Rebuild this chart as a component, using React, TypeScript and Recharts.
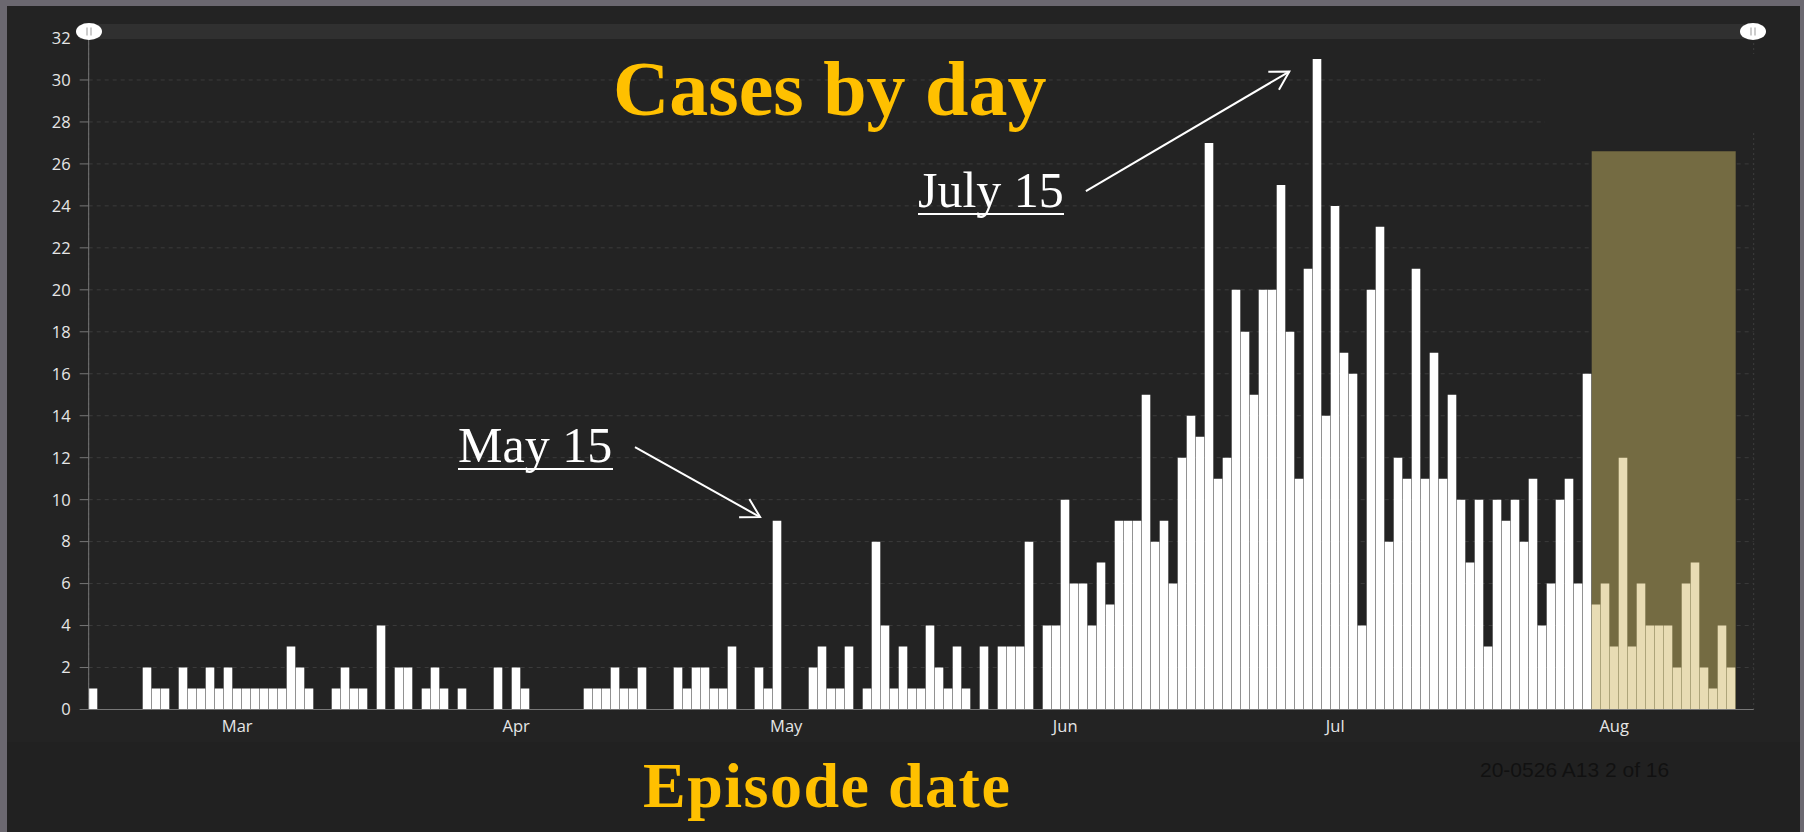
import React from 'react';
import {
  BarChart, Bar, Cell, XAxis, YAxis, CartesianGrid,
  ReferenceArea, ReferenceLine
} from 'recharts';

// daily case counts, first bar is Feb 29
const feb = [1];
const mar = [0, 0, 0, 0, 0, 2, 1, 1, 0, 2, 1, 1, 2, 1, 2, 1, 1, 1, 1, 1, 1, 3, 2, 1, 0, 0, 1, 2, 1, 1, 0];
const apr = [4, 0, 2, 2, 0, 1, 2, 1, 0, 1, 0, 0, 0, 2, 0, 2, 1, 0, 0, 0, 0, 0, 0, 1, 1, 1, 2, 1, 1, 2];
const may = [0, 0, 0, 2, 1, 2, 2, 1, 1, 3, 0, 0, 2, 1, 9, 0, 0, 0, 2, 3, 1, 1, 3, 0, 1, 8, 4, 1, 3, 1, 1];
const jun = [4, 2, 1, 3, 1, 0, 3, 0, 3, 3, 3, 8, 0, 4, 4, 10, 6, 6, 4, 7, 5, 9, 9, 9, 15, 8, 9, 6, 12, 14];
const jul = [13, 27, 11, 12, 20, 18, 15, 20, 20, 25, 18, 11, 21, 31, 14, 24, 17, 16, 4, 20, 23, 8, 12, 11, 21, 11, 17, 11, 15, 10, 7];
const aug = [10, 3, 10, 9, 10, 8, 11, 4, 6, 10, 11, 6, 16, 5, 6, 3, 12, 3, 6, 4, 4, 4, 2, 6, 7, 2, 1, 4, 2];

const monthLabels = ['Mar', 'Apr', 'May', 'Jun', 'Jul', 'Aug'];
const monthDays = [31, 30, 31, 30, 31, 31];
const yTicks = [0, 2, 4, 6, 8, 10, 12, 14, 16, 18, 20, 22, 24, 26, 28, 30, 32];

// recent, incomplete days (Aug 14 onward) shown in tan
const highlightFromAugDay = 14;
const highlightTop = 26.6;

// annotation arrows, in chart units (day index, cases)
const arrows = [
  { from: { x: 60.7, y: 12.5 }, to: { x: 74.6, y: 9.17 } },
  { from: { x: 110.8, y: 24.7 }, to: { x: 133.4, y: 30.4 } },
];

const cases = [...feb, ...mar, ...apr, ...may, ...jun, ...jul, ...aug];
const monthStarts = monthDays.reduce((acc, d) => [...acc, acc[acc.length - 1] + d], [feb.length]);
const monthMids = monthLabels.map((_, i) => monthStarts[i] + 15.5);
const totalDays = monthStarts[monthStarts.length - 1];
const hiStart = feb.length + mar.length + apr.length + may.length + jun.length + jul.length + highlightFromAugDay - 1;
const hiEnd = cases.length;

const data = cases.map((v, i) => ({ x: i + 0.5, cases: v }));

const uiFont = '"Open Sans", "Noto Sans", sans-serif';
const serif = '"Liberation Serif", "DejaVu Serif", serif';

const Arrow = (p: any) => {
  const { x1, y1, x2, y2 } = p;
  const a = Math.atan2(y2 - y1, x2 - x1);
  const L = 21;
  const s = Math.PI / 6;
  const pts = `${x2 - L * Math.cos(a - s)},${y2 - L * Math.sin(a - s)} ${x2},${y2} ${x2 - L * Math.cos(a + s)},${y2 - L * Math.sin(a + s)}`;
  return (
    <g>
      <line x1={x1} y1={y1} x2={x2} y2={y2} stroke="#fff" strokeWidth={2} />
      <polyline points={pts} fill="none" stroke="#fff" strokeWidth={2} />
    </g>
  );
};

const Handle = ({ cx, cy }: { cx: number; cy: number }) => (
  <g>
    <ellipse cx={cx} cy={cy} rx={13} ry={8.5} fill="#fff" />
    <line x1={cx - 2} y1={cy - 4} x2={cx - 2} y2={cy + 4} stroke="#999" strokeWidth={1} />
    <line x1={cx + 2} y1={cy - 4} x2={cx + 2} y2={cy + 4} stroke="#999" strokeWidth={1} />
  </g>
);

export default function App() {
  return (
    <div style={{ position: 'absolute', left: 0, top: 0, width: 1804, height: 832, background: '#6b6870', overflow: 'hidden' }}>
      <div style={{ position: 'absolute', left: 7, top: 6, width: 1793, height: 736, background: '#232323' }} />
      <div style={{ position: 'absolute', left: 7, top: 742, width: 1793, height: 90, background: '#212121' }} />
      <div style={{ position: 'absolute', left: 0, top: 0 }}>
        <BarChart
          width={1804}
          height={832}
          data={data}
          margin={{ top: 38, right: 50.3, left: 28.7, bottom: 91.5 }}
          barSize={8.6}
        >
          <CartesianGrid horizontal vertical={false} stroke="#3c3c3c" strokeDasharray="4 4" />
          <CartesianGrid horizontal={false} vertical stroke="#3e3e3e" strokeDasharray="2 3" />
          <XAxis
            xAxisId={0}
            dataKey="x"
            type="number"
            domain={[0, totalDays]}
            ticks={monthStarts}
            tick={false}
            tickSize={6}
            height={1}
            stroke="#777"
            allowDataOverflow
          />
          <XAxis
            xAxisId="lbl"
            dataKey="x"
            type="number"
            domain={[0, totalDays]}
            ticks={monthMids}
            tickFormatter={(v: number) => monthLabels[monthMids.indexOf(v)] ?? ''}
            axisLine={false}
            tickLine={false}
            tickSize={0}
            tickMargin={10}
            height={30}
            tick={{ fill: '#e6e6e6', fontSize: 16.5, fontFamily: uiFont }}
            allowDataOverflow
          />
          <YAxis
            domain={[0, 32]}
            ticks={yTicks}
            tickSize={9}
            tickMargin={9}
            width={60}
            stroke="#777"
            tick={{ fill: '#e6e6e6', fontSize: 16.5, fontFamily: uiFont }}
            allowDataOverflow
          />
          <ReferenceArea
            x1={hiStart}
            x2={hiEnd}
            y1={0}
            y2={highlightTop}
            fill="#746b42"
            fillOpacity={1}
            stroke="none"
          />
          <Bar dataKey="cases" isAnimationActive={false}>
            {data.map((d, i) => (
              <Cell key={i} fill={i >= hiStart ? '#e8dcb4' : '#ffffff'} />
            ))}
          </Bar>
          {arrows.map((a, i) => (
            <ReferenceLine key={i} segment={[a.from, a.to]} shape={Arrow} ifOverflow="visible" />
          ))}
        </BarChart>
      </div>
      <svg width={1804} height={832} style={{ position: 'absolute', left: 0, top: 0, pointerEvents: 'none' }}>
        {/* range slider strip along the top */}
        <rect x={89} y={24} width={1664} height={15} fill="#303030" />
        <Handle cx={89} cy={31.5} />
        <Handle cx={1753} cy={31.5} />
        {/* empty legend box */}
        <rect x={1545} y={54} width={210} height={79} fill="#232323" />
        <text x={613} y={115} fill="#ffc000" fontFamily={serif} fontWeight="bold" fontSize={78}>Cases by day</text>
        <text x={643} y={807} fill="#ffc000" fontFamily={serif} fontWeight="bold" fontSize={64} letterSpacing={1.5}>Episode date</text>
        <text x={458} y={462} fill="#fff" fontFamily={serif} fontSize={50}>May 15</text>
        <rect x={458} y={468} width={155} height={2} fill="#fff" />
        <text x={918} y={207} fill="#fff" fontFamily={serif} fontSize={50}>July 15</text>
        <rect x={918} y={213} width={146} height={2} fill="#fff" />
        <text x={1480} y={777} fill="#111" fontFamily='"Liberation Sans", Arial, sans-serif' fontSize={21}>20-0526 A13 2 of 16</text>
      </svg>
    </div>
  );
}
